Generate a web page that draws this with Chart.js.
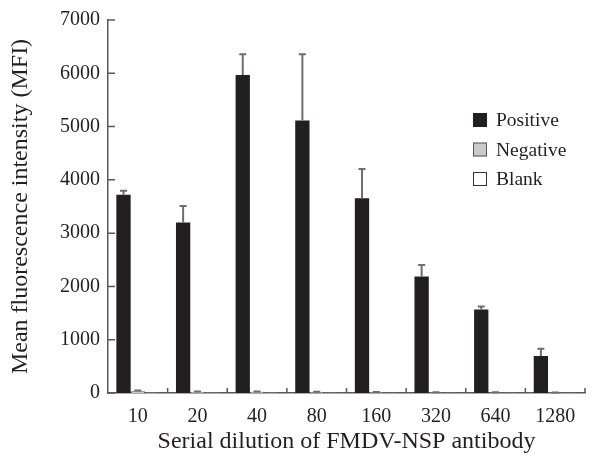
<!DOCTYPE html>
<html>
<head>
<meta charset="utf-8">
<script src="https://cdn.jsdelivr.net/npm/chart.js@4/dist/chart.umd.min.js"></script>
<style>
html, body { margin: 0; padding: 0; background: #fff; }
canvas { display: block; }
</style>
</head>
<body>
<canvas id="chart" width="592" height="458"></canvas>
<script>
const dilutions = ['10', '20', '40', '80', '160', '320', '640', '1280'];
const positive = [3720, 3200, 5970, 5115, 3655, 2185, 1565, 695];
const positiveErr = [75, 310, 385, 1240, 550, 215, 60, 135];
const negative = [35, 25, 25, 20, 15, 12, 10, 8];
const negativeErr = [10, 5, 5, 5, 4, 3, 3, 3];
const blank = [10, 8, 8, 8, 6, 6, 6, 6];
const yMin = 0, yMax = 7000, yStep = 1000;

const serif = "'Liberation Serif', 'Times New Roman', serif";
const ink = '#231f20';
const axisGrey = '#58595b';

// upward-only error bars with a small cap
const errorBars = {
  id: 'errorBars',
  afterDatasetsDraw(chart) {
    const ctx = chart.ctx, y = chart.scales.y;
    chart.data.datasets.forEach((ds, i) => {
      if (!ds.errors) return;
      chart.getDatasetMeta(i).data.forEach((bar, j) => {
        const top = y.getPixelForValue(ds.data[j] + ds.errors[j]);
        ctx.save();
        ctx.strokeStyle = '#6d6e71';
        ctx.lineWidth = 2;
        ctx.beginPath();
        ctx.moveTo(bar.x, bar.y);
        ctx.lineTo(bar.x, top);
        ctx.moveTo(bar.x - 3.5, top);
        ctx.lineTo(bar.x + 3.5, top);
        ctx.stroke();
        ctx.restore();
      });
    });
  }
};

// tick marks pointing into the plot
const innerTicks = {
  id: 'innerTicks',
  afterDatasetsDraw(chart) {
    const {ctx, scales: {x, y}} = chart;
    ctx.save();
    ctx.strokeStyle = axisGrey;
    ctx.lineWidth = 1.5;
    ctx.beginPath();
    y.ticks.forEach((t, i) => {
      const py = y.getPixelForTick(i);
      ctx.moveTo(y.right, py);
      ctx.lineTo(y.right + 7, py);
    });
    const half = x.width / dilutions.length / 2;
    for (let i = 0; i < dilutions.length; i++) {
      const px = x.getPixelForValue(i) + half;
      ctx.moveTo(px, x.top);
      ctx.lineTo(px, x.top - 5);
    }
    ctx.stroke();
    ctx.restore();
  }
};

// legend inside the plot, top right
const boxLegend = {
  id: 'boxLegend',
  afterDraw(chart, args, opts) {
    const ctx = chart.ctx;
    ctx.save();
    ctx.font = '19.5px ' + serif;
    ctx.textBaseline = 'middle';
    chart.data.datasets.forEach((ds, i) => {
      const cy = opts.y + i * opts.gap;
      ctx.fillStyle = ds.backgroundColor;
      ctx.fillRect(opts.x, cy - 7, 14, 14);
      ctx.strokeStyle = ds.legendBorder;
      ctx.lineWidth = 1;
      ctx.strokeRect(opts.x + 0.5, cy - 6.5, 13, 13);
      ctx.fillStyle = ink;
      ctx.fillText(ds.label, opts.x + 23, cy + 1);
    });
    ctx.restore();
  }
};

new Chart(document.getElementById('chart'), {
  type: 'bar',
  data: {
    labels: dilutions,
    datasets: [
      { label: 'Positive', data: positive, errors: positiveErr, backgroundColor: ink, borderWidth: 0, legendBorder: ink },
      { label: 'Negative', data: negative, errors: negativeErr, backgroundColor: '#c8c9ca', borderColor: '#555', borderWidth: 1, legendBorder: '#555' },
      { label: 'Blank', data: blank, backgroundColor: '#ffffff', borderColor: '#444', borderWidth: 1, legendBorder: '#333' }
    ]
  },
  options: {
    responsive: false,
    animation: false,
    categoryPercentage: 0.72,
    barPercentage: 1,
    layout: { padding: { top: 17, right: 7, left: 0, bottom: 0 } },
    plugins: {
      legend: { display: false },
      tooltip: { enabled: false },
      boxLegend: { x: 473, y: 120, gap: 29.5 }
    },
    scales: {
      x: {
        grid: { display: false, drawTicks: false },
        border: { color: axisGrey, width: 1.5 },
        ticks: { padding: 12, color: ink, font: { family: serif, size: 20 }, autoSkip: false, maxRotation: 0 },
        title: { display: true, text: 'Serial dilution of FMDV-NSP antibody', color: ink, font: { family: serif, size: 24 }, padding: { top: 0, bottom: 2 } },
        afterFit(s) { s.height = 65; }
      },
      y: {
        min: yMin,
        max: yMax,
        grid: { display: false, drawTicks: false },
        border: { color: axisGrey, width: 1.5 },
        ticks: { stepSize: yStep, padding: 8, color: ink, font: { family: serif, size: 20 }, callback: v => String(v) },
        title: { display: true, text: 'Mean fluorescence intensity (MFI)', color: ink, font: { family: serif, size: 24 }, padding: { top: 6, bottom: 0 } },
        afterFit(s) { s.width = 108; }
      }
    }
  },
  plugins: [errorBars, innerTicks, boxLegend]
});
</script>
</body>
</html>
